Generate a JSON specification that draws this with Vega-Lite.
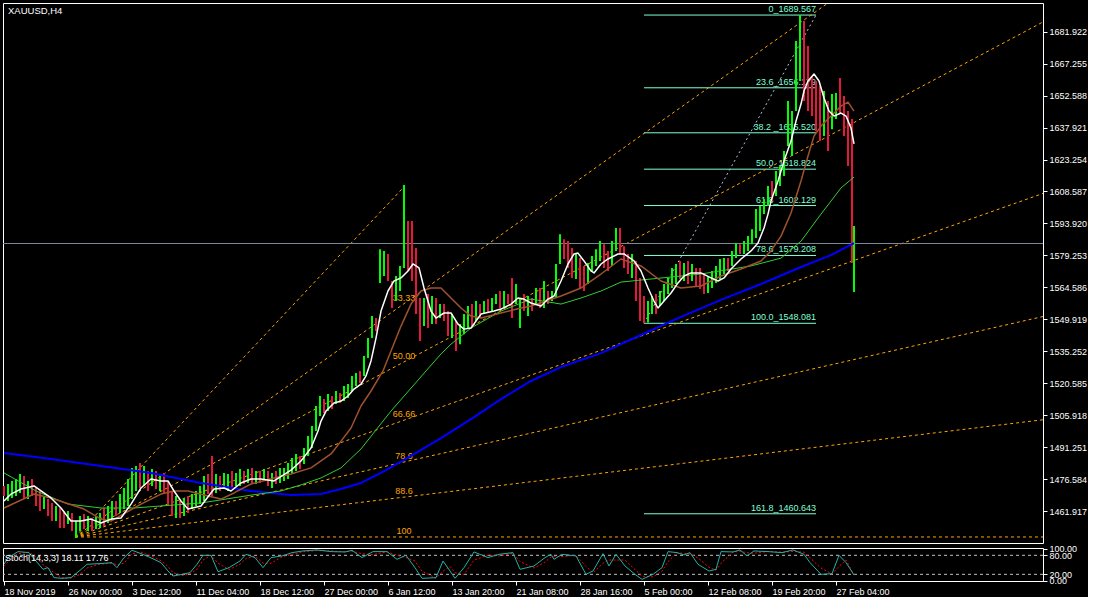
{
"$schema":"https://vega.github.io/schema/vega-lite/v6.json",
"background":"#000000",
"bounds":"flush",
"padding":{"left":2,"top":2,"right":0,"bottom":0},
"spacing":5,
"config":{"view":{"stroke":"#ffffff","strokeWidth":1},"font":"Liberation Sans","axis":{"labelColor":"#ffffff","tickColor":"#ffffff","domain":false,"grid":false,"labelFont":"Liberation Sans","labelFontSize":9,"tickSize":4,"labelPadding":2}},
"resolve":{"scale":{"x":"independent","y":"independent"}},
"datasets":{
"candles":[{"i":0,"p":1468.8,"h":1473.4,"u":0},{"i":2,"p":1466.5,"h":1474.3,"u":1},{"i":4,"p":1467.9,"h":1475.7,"u":1},{"i":6,"p":1468.8,"h":1476.6,"u":1},{"i":8,"p":1470.2,"h":1478.9,"u":1},{"i":10,"p":1467.9,"h":1478.0,"u":0},{"i":12,"p":1467.4,"h":1475.7,"u":1},{"i":14,"p":1468.8,"h":1476.6,"u":0},{"i":16,"p":1464.2,"h":1472.5,"u":0},{"i":18,"p":1461.9,"h":1471.1,"u":0},{"i":20,"p":1462.8,"h":1468.8,"u":1},{"i":22,"p":1459.6,"h":1467.4,"u":0},{"i":24,"p":1457.3,"h":1465.6,"u":0},{"i":26,"p":1457.3,"h":1464.2,"u":1},{"i":28,"p":1454.1,"h":1463.3,"u":0},{"i":30,"p":1454.1,"h":1461.9,"u":0},{"i":32,"p":1455.9,"h":1461.9,"u":1},{"i":34,"p":1452.7,"h":1461.0,"u":0},{"i":36,"p":1449.5,"h":1457.3,"u":1},{"i":38,"p":1452.7,"h":1459.6,"u":1},{"i":40,"p":1453.6,"h":1460.5,"u":0},{"i":42,"p":1452.7,"h":1459.6,"u":1},{"i":44,"p":1452.7,"h":1458.7,"u":0},{"i":46,"p":1453.6,"h":1459.6,"u":1},{"i":48,"p":1454.1,"h":1461.0,"u":1},{"i":50,"p":1455.0,"h":1463.3,"u":0},{"i":52,"p":1456.4,"h":1464.2,"u":1},{"i":54,"p":1457.3,"h":1466.5,"u":1},{"i":56,"p":1459.6,"h":1466.5,"u":0},{"i":58,"p":1461.0,"h":1469.7,"u":1},{"i":60,"p":1462.8,"h":1472.5,"u":1},{"i":62,"p":1464.2,"h":1476.6,"u":1},{"i":64,"p":1467.4,"h":1481.7,"u":1},{"i":66,"p":1471.1,"h":1482.6,"u":1},{"i":68,"p":1472.5,"h":1484.0,"u":0},{"i":70,"p":1473.4,"h":1482.6,"u":1},{"i":72,"p":1471.1,"h":1480.3,"u":0},{"i":74,"p":1473.4,"h":1481.2,"u":1},{"i":76,"p":1472.0,"h":1480.3,"u":0},{"i":78,"p":1471.1,"h":1478.9,"u":1},{"i":80,"p":1469.7,"h":1479.4,"u":0},{"i":82,"p":1464.2,"h":1475.7,"u":0},{"i":84,"p":1459.6,"h":1471.1,"u":0},{"i":86,"p":1458.7,"h":1468.8,"u":1},{"i":88,"p":1458.7,"h":1466.5,"u":0},{"i":90,"p":1459.6,"h":1467.9,"u":1},{"i":92,"p":1461.0,"h":1468.8,"u":0},{"i":94,"p":1462.8,"h":1469.7,"u":1},{"i":96,"p":1464.2,"h":1471.1,"u":1},{"i":98,"p":1465.1,"h":1473.4,"u":1},{"i":100,"p":1466.5,"h":1478.0,"u":1},{"i":102,"p":1469.7,"h":1478.9,"u":0},{"i":104,"p":1468.8,"h":1487.2,"u":0},{"i":106,"p":1470.2,"h":1478.9,"u":1},{"i":108,"p":1471.1,"h":1478.0,"u":0},{"i":110,"p":1472.5,"h":1479.4,"u":1},{"i":112,"p":1471.1,"h":1478.9,"u":1},{"i":114,"p":1472.0,"h":1480.3,"u":0},{"i":116,"p":1473.4,"h":1479.4,"u":1},{"i":118,"p":1473.4,"h":1481.2,"u":1},{"i":120,"p":1474.3,"h":1480.3,"u":0},{"i":122,"p":1474.8,"h":1481.2,"u":1},{"i":124,"p":1474.8,"h":1481.7,"u":0},{"i":126,"p":1474.3,"h":1480.3,"u":1},{"i":128,"p":1474.8,"h":1480.3,"u":0},{"i":130,"p":1475.7,"h":1481.2,"u":1},{"i":132,"p":1473.4,"h":1480.3,"u":0},{"i":134,"p":1472.5,"h":1479.4,"u":1},{"i":136,"p":1474.3,"h":1480.3,"u":0},{"i":138,"p":1474.8,"h":1481.7,"u":1},{"i":140,"p":1475.7,"h":1481.7,"u":1},{"i":142,"p":1476.6,"h":1484.0,"u":1},{"i":144,"p":1478.9,"h":1486.3,"u":1},{"i":146,"p":1480.3,"h":1488.1,"u":1},{"i":148,"p":1481.2,"h":1487.2,"u":0},{"i":150,"p":1483.5,"h":1490.8,"u":1},{"i":152,"p":1487.2,"h":1496.3,"u":1},{"i":154,"p":1490.8,"h":1500.9,"u":1},{"i":156,"p":1498.6,"h":1510.1,"u":1},{"i":158,"p":1505.5,"h":1514.7,"u":1},{"i":160,"p":1506.9,"h":1513.3,"u":0},{"i":162,"p":1507.8,"h":1515.6,"u":1},{"i":164,"p":1508.7,"h":1514.7,"u":0},{"i":166,"p":1511.0,"h":1517.0,"u":1},{"i":168,"p":1511.5,"h":1516.1,"u":0},{"i":170,"p":1512.4,"h":1519.3,"u":1},{"i":172,"p":1513.8,"h":1520.2,"u":1},{"i":174,"p":1517.0,"h":1523.9,"u":1},{"i":176,"p":1519.3,"h":1525.3,"u":1},{"i":178,"p":1520.7,"h":1526.2,"u":0},{"i":180,"p":1523.9,"h":1533.1,"u":1},{"i":182,"p":1532.2,"h":1541.3,"u":1},{"i":184,"p":1541.3,"h":1551.4,"u":1},{"i":186,"p":1544.5,"h":1550.5,"u":0},{"i":188,"p":1566.6,"h":1582.1,"u":1},{"i":190,"p":1569.8,"h":1581.3,"u":1},{"i":192,"p":1567.5,"h":1579.9,"u":0},{"i":194,"p":1555.1,"h":1567.5,"u":0},{"i":196,"p":1558.3,"h":1569.8,"u":1},{"i":198,"p":1562.9,"h":1574.4,"u":1},{"i":200,"p":1573.5,"h":1611.6,"u":1},{"i":202,"p":1572.1,"h":1595.0,"u":0},{"i":204,"p":1567.5,"h":1595.0,"u":0},{"i":206,"p":1552.3,"h":1582.6,"u":0},{"i":208,"p":1539.9,"h":1559.7,"u":0},{"i":210,"p":1546.8,"h":1559.7,"u":1},{"i":212,"p":1545.9,"h":1561.5,"u":0},{"i":214,"p":1547.7,"h":1560.6,"u":1},{"i":216,"p":1547.7,"h":1559.7,"u":0},{"i":218,"p":1550.5,"h":1556.9,"u":1},{"i":220,"p":1549.1,"h":1556.9,"u":0},{"i":222,"p":1542.2,"h":1553.7,"u":0},{"i":224,"p":1541.3,"h":1552.3,"u":1},{"i":226,"p":1535.4,"h":1549.1,"u":0},{"i":228,"p":1538.5,"h":1547.7,"u":1},{"i":230,"p":1543.1,"h":1552.3,"u":1},{"i":232,"p":1545.9,"h":1556.0,"u":1},{"i":234,"p":1546.8,"h":1556.9,"u":0},{"i":236,"p":1549.1,"h":1558.3,"u":1},{"i":238,"p":1550.5,"h":1556.9,"u":0},{"i":240,"p":1552.3,"h":1558.3,"u":1},{"i":242,"p":1552.8,"h":1559.2,"u":0},{"i":244,"p":1553.7,"h":1559.7,"u":1},{"i":246,"p":1556.9,"h":1561.5,"u":1},{"i":248,"p":1555.1,"h":1562.9,"u":0},{"i":250,"p":1555.1,"h":1562.9,"u":1},{"i":252,"p":1556.9,"h":1561.5,"u":0},{"i":254,"p":1550.5,"h":1568.9,"u":0},{"i":256,"p":1556.9,"h":1566.1,"u":1},{"i":258,"p":1545.9,"h":1559.7,"u":1},{"i":260,"p":1553.7,"h":1561.5,"u":0},{"i":262,"p":1551.4,"h":1560.6,"u":1},{"i":264,"p":1553.7,"h":1559.7,"u":0},{"i":266,"p":1556.9,"h":1564.3,"u":1},{"i":268,"p":1555.1,"h":1564.3,"u":0},{"i":270,"p":1555.1,"h":1567.5,"u":1},{"i":272,"p":1556.9,"h":1562.9,"u":0},{"i":274,"p":1558.3,"h":1562.9,"u":1},{"i":276,"p":1559.7,"h":1575.3,"u":1},{"i":278,"p":1575.3,"h":1589.0,"u":1},{"i":280,"p":1577.6,"h":1586.7,"u":0},{"i":282,"p":1573.5,"h":1585.8,"u":0},{"i":284,"p":1568.9,"h":1582.6,"u":0},{"i":286,"p":1568.4,"h":1579.9,"u":1},{"i":288,"p":1564.3,"h":1578.1,"u":0},{"i":290,"p":1562.9,"h":1574.4,"u":0},{"i":292,"p":1566.1,"h":1575.8,"u":1},{"i":294,"p":1572.1,"h":1579.0,"u":1},{"i":296,"p":1574.4,"h":1582.1,"u":1},{"i":298,"p":1576.7,"h":1585.8,"u":1},{"i":300,"p":1573.5,"h":1584.4,"u":0},{"i":302,"p":1572.1,"h":1581.3,"u":0},{"i":304,"p":1574.4,"h":1585.8,"u":1},{"i":306,"p":1581.3,"h":1591.8,"u":1},{"i":308,"p":1579.9,"h":1591.8,"u":0},{"i":310,"p":1573.5,"h":1583.5,"u":0},{"i":312,"p":1570.7,"h":1579.9,"u":0},{"i":314,"p":1568.9,"h":1579.9,"u":1},{"i":316,"p":1558.3,"h":1576.7,"u":0},{"i":318,"p":1549.1,"h":1568.9,"u":0},{"i":320,"p":1548.1,"h":1560.6,"u":0},{"i":322,"p":1548.5,"h":1558.3,"u":1},{"i":324,"p":1552.3,"h":1560.6,"u":1},{"i":326,"p":1552.3,"h":1561.5,"u":0},{"i":328,"p":1556.0,"h":1562.9,"u":1},{"i":330,"p":1558.3,"h":1566.1,"u":1},{"i":332,"p":1561.5,"h":1568.9,"u":1},{"i":334,"p":1564.3,"h":1573.5,"u":1},{"i":336,"p":1566.1,"h":1575.3,"u":1},{"i":338,"p":1568.4,"h":1576.7,"u":0},{"i":340,"p":1567.5,"h":1575.8,"u":1},{"i":342,"p":1566.1,"h":1576.7,"u":0},{"i":344,"p":1567.5,"h":1575.3,"u":1},{"i":346,"p":1565.2,"h":1573.5,"u":0},{"i":348,"p":1563.8,"h":1573.5,"u":0},{"i":350,"p":1561.5,"h":1570.7,"u":0},{"i":352,"p":1562.0,"h":1569.8,"u":1},{"i":354,"p":1564.3,"h":1572.1,"u":1},{"i":356,"p":1566.6,"h":1574.4,"u":1},{"i":358,"p":1568.4,"h":1577.6,"u":1},{"i":360,"p":1570.7,"h":1578.1,"u":1},{"i":362,"p":1572.1,"h":1578.1,"u":0},{"i":364,"p":1574.4,"h":1581.3,"u":1},{"i":366,"p":1578.1,"h":1584.9,"u":1},{"i":368,"p":1579.9,"h":1584.4,"u":0},{"i":370,"p":1579.9,"h":1585.8,"u":1},{"i":372,"p":1581.3,"h":1588.1,"u":1},{"i":374,"p":1584.4,"h":1591.3,"u":1},{"i":376,"p":1587.2,"h":1600.5,"u":1},{"i":378,"p":1590.4,"h":1601.9,"u":1},{"i":380,"p":1598.2,"h":1605.1,"u":1},{"i":382,"p":1601.9,"h":1611.1,"u":1},{"i":384,"p":1604.2,"h":1613.4,"u":0},{"i":386,"p":1606.5,"h":1618.0,"u":1},{"i":388,"p":1611.1,"h":1620.3,"u":1},{"i":390,"p":1615.7,"h":1627.2,"u":1},{"i":392,"p":1629.5,"h":1650.1,"u":1},{"i":394,"p":1624.9,"h":1645.5,"u":1},{"i":396,"p":1645.5,"h":1677.6,"u":1},{"i":398,"p":1659.3,"h":1689.6,"u":1},{"i":400,"p":1650.1,"h":1686.8,"u":0},{"i":402,"p":1645.5,"h":1675.4,"u":0},{"i":404,"p":1643.2,"h":1661.6,"u":0},{"i":406,"p":1636.3,"h":1659.3,"u":0},{"i":408,"p":1631.7,"h":1657.0,"u":0},{"i":410,"p":1634.0,"h":1654.7,"u":1},{"i":412,"p":1627.2,"h":1650.1,"u":0},{"i":414,"p":1637.2,"h":1653.3,"u":1},{"i":416,"p":1641.8,"h":1653.8,"u":1},{"i":418,"p":1644.6,"h":1660.7,"u":0},{"i":420,"p":1634.0,"h":1652.4,"u":0},{"i":422,"p":1620.3,"h":1645.5,"u":0},{"i":424,"p":1575.8,"h":1641.8,"u":0},{"i":425,"p":1562.4,"h":1592.7,"u":1}],
"wma":[{"i":0,"p":1466.5},{"i":3.5,"p":1469.7},{"i":8.5,"p":1472.0},{"i":15,"p":1473.4},{"i":23.5,"p":1467.9},{"i":28.5,"p":1463.3},{"i":33.5,"p":1457.3},{"i":38.5,"p":1457.3},{"i":43.5,"p":1458.2},{"i":48.5,"p":1456.4},{"i":53.5,"p":1458.2},{"i":58.5,"p":1458.7},{"i":63.5,"p":1465.1},{"i":68.5,"p":1472.5},{"i":73.5,"p":1476.6},{"i":78.5,"p":1475.7},{"i":82,"p":1475.7},{"i":85,"p":1471.1},{"i":88.5,"p":1466.5},{"i":92,"p":1462.8},{"i":98.5,"p":1464.2},{"i":105,"p":1472.0},{"i":110,"p":1472.5},{"i":113.5,"p":1471.1},{"i":118.5,"p":1474.8},{"i":123.5,"p":1476.6},{"i":128.5,"p":1476.6},{"i":135,"p":1475.7},{"i":143.5,"p":1480.7},{"i":148.5,"p":1484.9},{"i":153.5,"p":1490.8},{"i":157,"p":1498.6},{"i":158.5,"p":1503.2},{"i":161,"p":1507.8},{"i":165,"p":1511.5},{"i":168.5,"p":1512.4},{"i":172,"p":1514.7},{"i":175,"p":1517.9},{"i":178.5,"p":1520.2},{"i":181,"p":1523.9},{"i":183.5,"p":1530.8},{"i":186,"p":1541.3},{"i":188.5,"p":1553.7},{"i":192,"p":1562.9},{"i":195,"p":1567.5},{"i":198.5,"p":1568.9},{"i":202,"p":1572.1},{"i":204.5,"p":1575.3},{"i":207.5,"p":1573.5},{"i":210,"p":1564.3},{"i":213.5,"p":1553.7},{"i":216,"p":1550.5},{"i":220,"p":1552.8},{"i":223.5,"p":1552.8},{"i":227,"p":1547.7},{"i":230,"p":1545.4},{"i":233.5,"p":1545.9},{"i":238.5,"p":1552.3},{"i":245,"p":1553.7},{"i":248.5,"p":1554.6},{"i":253.5,"p":1556.9},{"i":257,"p":1559.7},{"i":260,"p":1559.2},{"i":263.5,"p":1557.4},{"i":268.5,"p":1556.0},{"i":272,"p":1559.2},{"i":275,"p":1560.6},{"i":278.5,"p":1567.5},{"i":282,"p":1575.3},{"i":285,"p":1579.9},{"i":287,"p":1580.3},{"i":290,"p":1576.7},{"i":293.5,"p":1572.1},{"i":295,"p":1571.2},{"i":298.5,"p":1575.3},{"i":302,"p":1577.6},{"i":307,"p":1579.9},{"i":310,"p":1579.9},{"i":315,"p":1576.7},{"i":318.5,"p":1572.1},{"i":322,"p":1564.3},{"i":325,"p":1558.3},{"i":327,"p":1555.1},{"i":330,"p":1558.3},{"i":333.5,"p":1562.0},{"i":337,"p":1566.6},{"i":340,"p":1569.8},{"i":343.5,"p":1571.2},{"i":348.5,"p":1571.2},{"i":353.5,"p":1568.9},{"i":357,"p":1567.5},{"i":360,"p":1568.9},{"i":363.5,"p":1573.0},{"i":368.5,"p":1577.6},{"i":373.5,"p":1581.3},{"i":377,"p":1584.9},{"i":380,"p":1591.8},{"i":382,"p":1598.2},{"i":383.5,"p":1604.2},{"i":387,"p":1613.4},{"i":390,"p":1622.6},{"i":393.5,"p":1631.7},{"i":396,"p":1640.9},{"i":398.5,"p":1648.7},{"i":400,"p":1654.7},{"i":402,"p":1659.3},{"i":405,"p":1662.5},{"i":407.5,"p":1659.3},{"i":410,"p":1651.5},{"i":412.5,"p":1645.5},{"i":415,"p":1643.2},{"i":418.5,"p":1644.6},{"i":421,"p":1643.2},{"i":423.5,"p":1637.7},{"i":425,"p":1630.4}],
"bma":[{"i":0,"p":1463.3},{"i":15,"p":1469.7},{"i":23.5,"p":1467.9},{"i":40,"p":1462.8},{"i":48.5,"p":1458.2},{"i":53.5,"p":1457.3},{"i":68.5,"p":1465.1},{"i":78.5,"p":1469.7},{"i":85,"p":1471.1},{"i":92,"p":1471.1},{"i":102,"p":1468.8},{"i":108.5,"p":1467.4},{"i":115,"p":1470.2},{"i":123.5,"p":1474.3},{"i":135,"p":1477.1},{"i":143.5,"p":1478.9},{"i":153.5,"p":1481.7},{"i":163.5,"p":1488.1},{"i":168.5,"p":1494.0},{"i":173.5,"p":1500.0},{"i":178.5,"p":1510.1},{"i":183.5,"p":1517.0},{"i":189.5,"p":1526.2},{"i":193.5,"p":1535.4},{"i":198.5,"p":1546.8},{"i":203.5,"p":1556.9},{"i":208.5,"p":1562.9},{"i":213.5,"p":1564.3},{"i":218.5,"p":1564.3},{"i":223.5,"p":1559.7},{"i":228.5,"p":1555.1},{"i":233.5,"p":1551.4},{"i":238.5,"p":1550.5},{"i":248.5,"p":1552.8},{"i":258.5,"p":1555.1},{"i":263.5,"p":1556.0},{"i":278.5,"p":1560.6},{"i":288.5,"p":1564.3},{"i":298.5,"p":1570.7},{"i":308.5,"p":1577.6},{"i":318.5,"p":1574.4},{"i":328.5,"p":1567.5},{"i":338.5,"p":1564.3},{"i":348.5,"p":1565.2},{"i":358.5,"p":1569.8},{"i":368.5,"p":1573.0},{"i":378.5,"p":1576.7},{"i":383.5,"p":1581.3},{"i":388.5,"p":1588.1},{"i":393.5,"p":1598.7},{"i":398.5,"p":1613.4},{"i":402,"p":1624.9},{"i":405,"p":1634.0},{"i":408.5,"p":1638.6},{"i":413.5,"p":1643.2},{"i":418.5,"p":1647.8},{"i":422,"p":1649.6},{"i":425,"p":1645.5}],
"gma":[{"i":0,"p":1479.4},{"i":16,"p":1471.1},{"i":32,"p":1465.1},{"i":48.5,"p":1463.3},{"i":65,"p":1463.3},{"i":98.5,"p":1465.6},{"i":123.5,"p":1469.2},{"i":138.5,"p":1471.1},{"i":148.5,"p":1473.9},{"i":158.5,"p":1477.1},{"i":168.5,"p":1481.7},{"i":178.5,"p":1490.4},{"i":193.5,"p":1507.8},{"i":211,"p":1526.2},{"i":218.5,"p":1534.0},{"i":223.5,"p":1538.5},{"i":233.5,"p":1545.9},{"i":248.5,"p":1553.7},{"i":263.5,"p":1559.2},{"i":278.5,"p":1556.9},{"i":288.5,"p":1559.7},{"i":298.5,"p":1562.9},{"i":308.5,"p":1567.0},{"i":323.5,"p":1568.4},{"i":348.5,"p":1570.7},{"i":373.5,"p":1574.4},{"i":388.5,"p":1578.0},{"i":398.5,"p":1585.8},{"i":408.5,"p":1598.2},{"i":418.5,"p":1610.2},{"i":425,"p":1615.2}],
"zma":[{"i":0,"p":1488.5},{"i":23.5,"p":1485.8},{"i":48.5,"p":1482.6},{"i":73.5,"p":1479.4},{"i":98.5,"p":1474.8},{"i":123.5,"p":1471.1},{"i":143.5,"p":1469.3},{"i":158.5,"p":1469.7},{"i":168.5,"p":1472.0},{"i":178.5,"p":1474.8},{"i":188.5,"p":1479.4},{"i":203.5,"p":1487.2},{"i":218.5,"p":1495.4},{"i":233.5,"p":1504.1},{"i":248.5,"p":1513.3},{"i":263.5,"p":1521.6},{"i":278.5,"p":1528.0},{"i":298.5,"p":1534.4},{"i":318.5,"p":1542.7},{"i":338.5,"p":1551.0},{"i":358.5,"p":1558.8},{"i":378.5,"p":1566.1},{"i":398.5,"p":1573.9},{"i":413.5,"p":1579.4},{"i":425,"p":1584.9}],
"fan":[{"r":"a","i":35.5,"p":1450},{"r":"a","i":412,"p":1695.1},{"r":"b","i":35.5,"p":1450},{"r":"b","i":519.5,"p":1686.4},{"r":"c","i":35.5,"p":1450},{"r":"c","i":519.5,"p":1607.7},{"r":"d","i":35.5,"p":1450},{"r":"d","i":519.5,"p":1551.2},{"r":"e","i":35.5,"p":1450},{"r":"e","i":519.5,"p":1503.8},{"r":"f","i":35.5,"p":1450},{"r":"f","i":519.5,"p":1450},{"r":"g","i":35.5,"p":1450},{"r":"g","i":200,"p":1610.7}],
"fanlab":[{"i":200,"p":1557.1,"t":"33.33"},{"i":200,"p":1530.35,"t":"50.00"},{"i":200,"p":1503.6,"t":"66.66"},{"i":200,"p":1484.4,"t":"78.6"},{"i":200,"p":1468.3,"t":"88.6"},{"i":200,"p":1450,"t":"100"}],
"fib":[{"i":320,"b":406,"p":1689.567,"t":"0_1689.567"},{"i":320,"b":406,"p":1656.179,"t":"23.6_1656.179"},{"i":320,"b":406,"p":1635.52,"t":"38.2 _1635.520"},{"i":320,"b":406,"p":1618.824,"t":"50.0_1618.824"},{"i":320,"b":406,"p":1602.129,"t":"61.8_1602.129"},{"i":320,"b":406,"p":1579.208,"t":"78.6_1579.208"},{"i":320,"b":406,"p":1548.081,"t":"100.0_1548.081"},{"i":320,"b":406,"p":1460.643,"t":"161.8_1460.643"}],
"sto":[{"i":0,"k":51.6,"d":45},{"i":2,"k":72.6,"d":60},{"i":7,"k":91.6,"d":85},{"i":12.5,"k":88.4,"d":90},{"i":16,"k":62.1,"d":75},{"i":19.5,"k":35.8,"d":50},{"i":22,"k":41.1,"d":40},{"i":25,"k":9.5,"d":25},{"i":29,"k":7.4,"d":9},{"i":33.5,"k":9.5,"d":8},{"i":38,"k":32.6,"d":20},{"i":41.5,"k":51.6,"d":40},{"i":47.5,"k":53.7,"d":52},{"i":54,"k":56.9,"d":55},{"i":56.5,"k":41.1,"d":50},{"i":60,"k":72.7,"d":55},{"i":64,"k":95.8,"d":85},{"i":68.5,"k":85.3,"d":90},{"i":74,"k":70.5,"d":77},{"i":78.5,"k":56.9,"d":63},{"i":82,"k":30.5,"d":45},{"i":84.5,"k":14.7,"d":25},{"i":89,"k":20,"d":16},{"i":93,"k":25.3,"d":22},{"i":96.5,"k":51.6,"d":35},{"i":99.5,"k":80,"d":65},{"i":103.5,"k":80,"d":80},{"i":107,"k":28.4,"d":55},{"i":112.5,"k":41.1,"d":35},{"i":118,"k":62.1,"d":52},{"i":121,"k":83.2,"d":70},{"i":125.5,"k":72.7,"d":78},{"i":129.5,"k":41.1,"d":55},{"i":133.5,"k":72.7,"d":55},{"i":139,"k":77.9,"d":75},{"i":144,"k":88.4,"d":83},{"i":149.5,"k":93.7,"d":91},{"i":156.5,"k":96.9,"d":95},{"i":163.5,"k":91.6,"d":94},{"i":170.5,"k":90.5,"d":91},{"i":174,"k":95.8,"d":93},{"i":179,"k":72.7,"d":85},{"i":184.5,"k":91.6,"d":82},{"i":191.5,"k":91.6,"d":91},{"i":196.5,"k":67.4,"d":80},{"i":201,"k":80,"d":73},{"i":205.5,"k":41.1,"d":62},{"i":209,"k":7.4,"d":30},{"i":216,"k":9.5,"d":8},{"i":219.5,"k":62.1,"d":30},{"i":223,"k":30.5,"d":45},{"i":225.5,"k":7.4,"d":25},{"i":230,"k":41.1,"d":20},{"i":235,"k":90.5,"d":65},{"i":242,"k":72.7,"d":80},{"i":247.5,"k":83.2,"d":78},{"i":254.5,"k":88.4,"d":86},{"i":258,"k":35.8,"d":60},{"i":265,"k":46.3,"d":40},{"i":270.5,"k":72.7,"d":58},{"i":273.5,"k":83.2,"d":75},{"i":275,"k":67.4,"d":76},{"i":279,"k":83.2,"d":76},{"i":286,"k":77.9,"d":80},{"i":291,"k":20,"d":45},{"i":294.5,"k":30.5,"d":25},{"i":299.5,"k":85.3,"d":55},{"i":302.5,"k":46.3,"d":65},{"i":306,"k":83.2,"d":65},{"i":310.5,"k":46.3,"d":65},{"i":315.5,"k":20,"d":35},{"i":319,"k":4.2,"d":14},{"i":324.5,"k":20,"d":12},{"i":329,"k":41.1,"d":30},{"i":332,"k":91.6,"d":60},{"i":336.5,"k":88.4,"d":88},{"i":340,"k":81.1,"d":86},{"i":343,"k":88.4,"d":84},{"i":347,"k":51.6,"d":72},{"i":352.5,"k":30.5,"d":42},{"i":356,"k":35.8,"d":33},{"i":358.5,"k":91.6,"d":55},{"i":364.5,"k":90.5,"d":90},{"i":368,"k":96.9,"d":93},{"i":371.5,"k":77.9,"d":88},{"i":375,"k":93.7,"d":87},{"i":382,"k":91.6,"d":92},{"i":389,"k":88.4,"d":90},{"i":394.5,"k":96.9,"d":92},{"i":400,"k":83.2,"d":90},{"i":403,"k":56.9,"d":72},{"i":408.5,"k":20,"d":40},{"i":414,"k":22.1,"d":21},{"i":417.5,"k":80,"d":45},{"i":421,"k":56.9,"d":65},{"i":425,"k":18.11,"d":17.76}]
},
"vconcat":[
{"width":1040,"height":540,
"encoding":{
"x":{"field":"i","type":"quantitative","scale":{"domain":[-0.5,519.5],"nice":false,"zero":false},"axis":null},
"y":{"field":"p","type":"quantitative","scale":{"domain":[1447.23,1695.1],"nice":false,"zero":false},"axis":{"orient":"right","values":[1461.917,1476.584,1491.251,1505.918,1520.585,1535.252,1549.919,1564.586,1579.253,1593.92,1608.587,1623.254,1637.921,1652.588,1667.255,1681.922],"format":".3f","labelFlush":false,"labelBound":false,"labelOverlap":false,"title":null}}},
"layer":[
{"data":{"name":"fib"},"mark":{"type":"rule","color":"#7fffd4","strokeWidth":1},"encoding":{"x2":{"field":"b"}}},
{"data":{"name":"fib"},"mark":{"type":"text","color":"#7fffd4","align":"right","baseline":"alphabetic","dy":-3,"fontSize":9,"font":"Liberation Sans"},"encoding":{"x":{"field":"b","type":"quantitative","scale":{"domain":[-0.5,519.5],"nice":false,"zero":false}},"text":{"field":"t"}}},
{"data":{"name":"fan"},"mark":{"type":"line","color":"#ffa500","strokeWidth":1,"strokeDash":[3,3],"strokeJoin":"round"},"encoding":{"detail":{"field":"r"}}},
{"data":{"name":"fanlab"},"mark":{"type":"text","color":"#ffa500","align":"center","baseline":"alphabetic","dy":-3,"fontSize":9,"font":"Liberation Sans"},"encoding":{"text":{"field":"t"}}},
{"data":{"values":[{"i":320,"p":1548.081},{"i":406,"p":1689.567}]},"mark":{"type":"line","color":"#b0c4de","strokeWidth":1,"strokeDash":[2,3],"strokeJoin":"round"}},
{"data":{"values":[{"i":-0.5,"p":1584.7},{"i":519.5,"p":1584.7}]},"mark":{"type":"line","color":"#778899","strokeWidth":1,"strokeJoin":"round"}},
{"data":{"name":"candles"},"mark":{"type":"rule","strokeWidth":2},"encoding":{"y2":{"field":"h"},"color":{"condition":{"test":"datum.u==1","value":"#00ff00"},"value":"#e6193c"}}},
{"data":{"name":"zma"},"mark":{"type":"line","color":"#0000ff","strokeWidth":2,"strokeJoin":"round"}},
{"data":{"name":"gma"},"mark":{"type":"line","color":"#32cd32","strokeWidth":1,"strokeJoin":"round"}},
{"data":{"name":"bma"},"mark":{"type":"line","color":"#a0522d","strokeWidth":1.5,"strokeJoin":"round"}},
{"data":{"name":"wma"},"mark":{"type":"line","color":"#ffffff","strokeWidth":1.5,"strokeJoin":"round"}},
{"data":{"values":[{"i":2,"p":1691.5,"t":"XAUUSD,H4"}]},"mark":{"type":"text","color":"#ffffff","align":"left","baseline":"middle","fontSize":9.5,"font":"Liberation Sans"},"encoding":{"text":{"field":"t"}}},
{"data":{"values":[{"t":"1584.700"}]},"mark":{"type":"rect","color":"#778899"},"encoding":{"x":{"datum":521.5,"type":"quantitative","scale":{"domain":[-0.5,519.5],"nice":false,"zero":false}},"x2":{"datum":543},"y":{"datum":1587.1,"type":"quantitative","scale":{"domain":[1447.23,1695.1],"nice":false,"zero":false}},"y2":{"datum":1582.4}}},
{"data":{"values":[{"t":"1584.700"}]},"mark":{"type":"text","color":"#ffffff","align":"left","baseline":"middle","fontSize":9,"font":"Liberation Sans"},"encoding":{"x":{"datum":522.5,"type":"quantitative","scale":{"domain":[-0.5,519.5],"nice":false,"zero":false}},"y":{"datum":1584.7,"type":"quantitative","scale":{"domain":[1447.23,1695.1],"nice":false,"zero":false}},"text":{"field":"t"}}}
]},
{"width":1040,"height":33,
"encoding":{
"y":{"field":"k","type":"quantitative","scale":{"domain":[-1,103],"nice":false,"zero":false},"axis":{"orient":"right","values":[0,20,80,100],"format":".2f","labelOverlap":false,"labelFlush":false,"labelBound":false,"title":null}}},
"layer":[
{"data":{"values":[{"k":20},{"k":80}]},"mark":{"type":"rule","color":"#c0c0c0","strokeWidth":1,"strokeDash":[3,3]}},
{"data":{"name":"sto"},"mark":{"type":"line","color":"#ff0000","strokeWidth":1,"strokeDash":[2,2],"strokeJoin":"round"},"encoding":{"x":{"field":"i","type":"quantitative","scale":{"domain":[-0.5,519.5],"nice":false,"zero":false},"title":null},"y":{"field":"d","type":"quantitative","scale":{"domain":[-1,103],"nice":false,"zero":false},"title":null}}},
{"data":{"name":"sto"},"mark":{"type":"line","color":"#20b2aa","strokeWidth":1,"strokeJoin":"round"},"encoding":{"x":{"field":"i","type":"quantitative","scale":{"domain":[-0.5,519.5],"nice":false,"zero":false},"axis":{"values":[0,32,64,96,128,160,192,224,256,288,320,352,384,416],"labelExpr":"['18 Nov 2019','26 Nov 00:00','3 Dec 12:00','11 Dec 04:00','18 Dec 12:00','27 Dec 00:00','6 Jan 12:00','13 Jan 20:00','21 Jan 08:00','28 Jan 16:00','5 Feb 00:00','12 Feb 08:00','19 Feb 20:00','27 Feb 04:00'][round(datum.value/32)]","labelAlign":"left","labelFlush":false,"labelBound":false,"labelOverlap":false,"title":null}}}},
{"data":{"values":[{"i":0.5,"k":72,"t":"Stoch(14,3,3) 18.11 17.76"}]},"mark":{"type":"text","color":"#ffffff","align":"left","baseline":"middle","fontSize":9,"font":"Liberation Sans"},"encoding":{"x":{"field":"i","type":"quantitative","scale":{"domain":[-0.5,519.5],"nice":false,"zero":false}},"text":{"field":"t"}}}
]}
]
}
